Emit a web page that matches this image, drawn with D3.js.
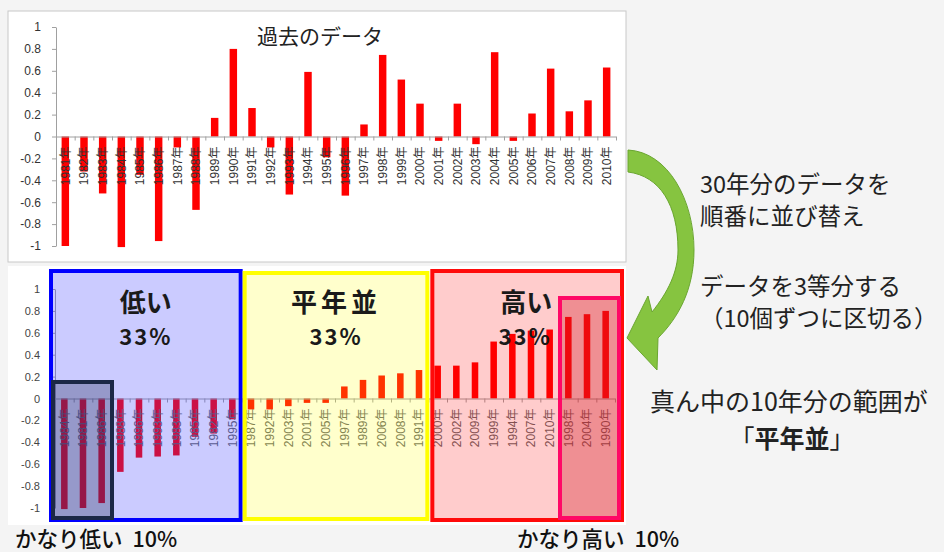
<html>
<head>
<meta charset="utf-8">
<script src="https://d3js.org/d3.v7.min.js"></script>
</head>
<body style="margin:0;background:#f4f4f4">
<div id="chart"></div>

<script>

// 過去30年のデータ（平年差）
var years = ["1981年","1982年","1983年","1984年","1985年","1986年","1987年","1988年","1989年","1990年",
             "1991年","1992年","1993年","1994年","1995年","1996年","1997年","1998年","1999年","2000年",
             "2001年","2002年","2003年","2004年","2005年","2006年","2007年","2008年","2009年","2010年"];
var values = [-1.00, -0.32, -0.52, -1.01, -0.35, -0.955, -0.10, -0.67, 0.17, 0.80,
              0.26, -0.10, -0.53, 0.59, -0.19, -0.54, 0.11, 0.745, 0.52, 0.30,
              -0.04, 0.30, -0.07, 0.77, -0.04, 0.21, 0.62, 0.23, 0.33, 0.63];
var yTicks = [1, 0.8, 0.6, 0.4, 0.2, 0, -0.2, -0.4, -0.6, -0.8, -1];

var groupNames = ["低い", "平年並", "高い"];
var groupShare = ["33%", "33%", "33%"];
var extremeNames = ["かなり低い", "かなり高い"];
var extremeShare = ["10%", "10%"];
var noteLines = ["30年分のデータを", "順番に並び替え", "データを3等分する", "（10個ずつに区切る）"];

var jp = "'Noto Sans CJK JP', sans-serif";
var num = "'Liberation Sans', 'Noto Sans CJK JP', sans-serif";
var narrow = "'Liberation Sans Narrow', 'Liberation Sans', 'Noto Sans CJK JP', sans-serif";

var data = years.map(function(y, i) { return {year: y, value: values[i]}; });
var sorted = d3.sort(data, function(a, b) { return d3.ascending(a.value, b.value); });

var width = 944, height = 552;

var svg = d3.select("#chart")
    .append("svg")
    .attr("width", width)
    .attr("height", height);

svg.append("rect").attr("width", width).attr("height", height).attr("fill", "#f4f4f4");

var fmt = function(d) { return String(+d.toFixed(1)); };

// ---------- 上: 過去のデータ ----------
var xTop = d3.scaleBand().domain(years).range([56, 616]).paddingInner(0.6).paddingOuter(0.3);
var yTop = d3.scaleLinear().domain([-1, 1]).range([246, 27]);

svg.append("rect")
    .attr("x", 8).attr("y", 11).attr("width", 618).attr("height", 251)
    .attr("fill", "white").attr("stroke", "#c8c8c8");

svg.append("text")
    .attr("x", 320).attr("y", 35)
    .attr("text-anchor", "middle")
    .attr("dominant-baseline", "central")
    .style("font-family", jp).style("font-size", "21px").style("fill", "#222")
    .text("過去のデータ");

function drawAxes(g, x, y, labelFont, labelSize, labelColor, tickColor) {
    var ax = g.append("g")
        .attr("transform", "translate(" + x.range()[0] + ",0)")
        .call(d3.axisLeft(y).tickValues(yTicks).tickFormat(fmt).tickSize(4).tickSizeOuter(0).tickPadding(11));
    ax.selectAll("path, line").attr("stroke", tickColor);
    ax.selectAll("text").style("font-family", labelFont).style("font-size", labelSize).style("fill", labelColor);
}

function drawBars(g, x, y, rows) {
    g.append("g").selectAll("rect")
        .data(rows)
        .enter()
        .append("rect")
        .attr("x", function(d) { return x(d.year); })
        .attr("y", function(d) { return y(Math.max(0, d.value)); })
        .attr("width", x.bandwidth())
        .attr("height", function(d) { return Math.abs(y(d.value) - y(0)); })
        .attr("fill", "#ff0000");
}

function drawXAxis(g, x, y, rows, font, size, color) {
    var r = x.range();
    g.append("line")
        .attr("x1", r[0]).attr("x2", r[1])
        .attr("y1", y(0) + 0.5).attr("y2", y(0) + 0.5)
        .attr("stroke", "#a0a0a0");
    g.append("g").selectAll("line")
        .data(d3.range(rows.length + 1))
        .enter()
        .append("line")
        .attr("x1", function(i) { return r[0] + i * x.step() + 0.5; })
        .attr("x2", function(i) { return r[0] + i * x.step() + 0.5; })
        .attr("y1", y(0)).attr("y2", y(0) + 4)
        .attr("stroke", "#a0a0a0");
    g.append("g").selectAll("text")
        .data(rows)
        .enter()
        .append("text")
        .attr("transform", function(d) {
            return "translate(" + (x(d.year) + x.bandwidth() / 2) + "," + (y(0) + 10) + ") rotate(-90)";
        })
        .attr("text-anchor", "end")
        .attr("dy", "0.35em")
        .style("font-family", font).style("font-size", size).style("fill", color)
        .text(function(d) { return d.year; });
}

var topChart = svg.append("g");
drawAxes(topChart, xTop, yTop, num, "12px", "#333", "#a0a0a0");
drawBars(topChart, xTop, yTop, data);
drawXAxis(topChart, xTop, yTop, data, num, "12px", "#333");

// ---------- 下: 並び替えたデータ ----------
var xBot = d3.scaleBand().domain(sorted.map(function(d) { return d.year; }))
    .range([55, 615]).paddingInner(0.65).paddingOuter(0.325);
var yBot = d3.scaleLinear().domain([-1, 1]).range([508, 289]);

svg.append("rect")
    .attr("x", 8).attr("y", 266).attr("width", 618).attr("height", 259)
    .attr("fill", "white");

var botChart = svg.append("g");
drawAxes(botChart, xBot, yBot, narrow, "11px", "#444", "#a0a0a0");
drawBars(botChart, xBot, yBot, sorted);
drawXAxis(botChart, xBot, yBot, sorted, narrow, "12px", "#666");

// 3等分の枠
var b = function(i) { return xBot.range()[0] + i * xBot.step(); };
var boxes = [
    {x0: b(0) - 4,  x1: b(10) - 1, y0: 271, y1: 520, fill: "#4040ff", op: 0.27, stroke: "#0000ff"},
    {x0: b(10) + 3, x1: b(20) - 1, y0: 273, y1: 519, fill: "#ffff00", op: 0.2,  stroke: "#ffff00"},
    {x0: b(20) + 4, x1: b(30) + 7, y0: 271, y1: 520, fill: "#ff0000", op: 0.2,  stroke: "#ff0a0a"},
    {x0: b(0) - 2,  x1: b(3) + 1,  y0: 382, y1: 518, fill: "#1e2850", op: 0.3,  stroke: "#1c2846"},
    {x0: b(27) + 1, x1: b(30) + 4, y0: 298, y1: 518, fill: "#d21e28", op: 0.35, stroke: "#ff0866"}
];

svg.append("g").selectAll("rect")
    .data(boxes)
    .enter()
    .append("rect")
    .attr("x", function(d) { return d.x0; })
    .attr("y", function(d) { return d.y0; })
    .attr("width", function(d) { return d.x1 - d.x0; })
    .attr("height", function(d) { return d.y1 - d.y0; })
    .attr("fill", function(d) { return d.fill; })
    .attr("fill-opacity", function(d) { return d.op; })
    .attr("stroke", function(d) { return d.stroke; })
    .attr("stroke-width", 4);

groupNames.forEach(function(name, i) {
    var cx = (boxes[i].x0 + boxes[i].x1) / 2;
    svg.append("text")
        .attr("x", cx + (i == 2 ? -1 : 0)).attr("y", 300)
        .attr("text-anchor", "middle").attr("dominant-baseline", "central")
        .style("font-family", jp).style("font-size", "26px").style("font-weight", "bold")
        .style("letter-spacing", i == 1 ? "4px" : "0px")
        .style("fill", "#1a1a1a")
        .text(name);
    svg.append("text")
        .attr("x", cx - (i == 2 ? 2 : 0)).attr("y", 335)
        .attr("text-anchor", "middle").attr("dominant-baseline", "central")
        .style("font-family", jp).style("font-size", "22px").style("font-weight", "bold")
        .style("letter-spacing", "2px")
        .style("fill", "#1a1a1a")
        .text(groupShare[i]);
});

// かなり低い / かなり高い
[15, 517].forEach(function(x0, i) {
    var t = svg.append("text")
        .attr("x", x0).attr("y", 537).attr("dominant-baseline", "central")
        .style("font-family", jp).style("font-size", "21.5px").style("font-weight", "500").style("fill", "#111");
    t.append("tspan").text(extremeNames[i]);
    t.append("tspan").attr("dx", 10).text(extremeShare[i]);
});

// 矢印
svg.append("path")
    .attr("d", "M628,150 C668,152 694,200 694,250 C694,290 678,318 658,338 L657,370 L627,338 L648,296 L652,312 " +
               "C668,292 678,272 678,250 C678,205 660,176 628,172 Z")
    .attr("fill", "#86c440").attr("stroke", "#6aa630").attr("stroke-width", 1);

// 説明
var noteY = [183, 215, 285, 317];
noteLines.forEach(function(t, i) {
    svg.append("text")
        .attr("x", 700).attr("y", noteY[i]).attr("dominant-baseline", "central")
        .style("font-family", jp).style("font-size", "23.5px").style("fill", "#222")
        .text(t);
});

svg.append("text")
    .attr("x", 650).attr("y", 400).attr("dominant-baseline", "central")
    .style("font-family", jp).style("font-size", "25px").style("fill", "#222")
    .text("真ん中の10年分の範囲が");

var last = svg.append("text")
    .attr("x", 792).attr("y", 437).attr("text-anchor", "middle").attr("dominant-baseline", "central")
    .style("font-family", jp).style("font-size", "25px").style("fill", "#222");
last.append("tspan").text("「");
last.append("tspan").style("font-weight", "bold").text(groupNames[1]);
last.append("tspan").text("」");

</script>
</body>
</html>
